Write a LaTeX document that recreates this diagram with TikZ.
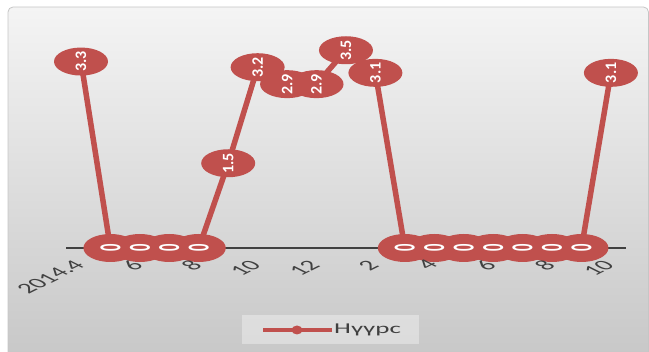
\documentclass[tikz,border=0pt]{standalone}
\usepackage{fontspec}
\setmainfont{Carlito}
\usepackage{graphicx}
\usetikzlibrary{shapes.geometric}
\definecolor{ser}{HTML}{C0504D}
\definecolor{txt}{HTML}{404040}
\definecolor{bgtop}{HTML}{F4F4F4}
\definecolor{bgbot}{HTML}{C7C7C7}
\newcommand\zlab{\scalebox{2.1}[1]{\rotatebox{90}{0}}}
\newcommand\xlab[1]{\scalebox{2}[1]{\rotatebox{45}{#1}}}
\begin{document}
\begin{tikzpicture}[x=1pt,y=-1pt,
  marker/.style={ellipse, fill=ser, minimum width=54pt, minimum height=28pt, inner sep=0pt},
  vallab/.style={inner sep=0pt, text=white, font=\fontsize{16}{16}\selectfont\bfseries},
  zerolab/.style={inner sep=0pt, text=white, font=\fontsize{14.5}{14.5}\selectfont\bfseries},
  series/.style={draw=ser, line width=5.5pt, line join=round},
  ticklab/.style={anchor=north east, inner sep=0pt, text=txt, font=\fontsize{14.5}{14.5}\selectfont},
  axisline/.style={draw=txt, line width=2.5pt},
]
\useasboundingbox (0,0) rectangle (649,352);
% background
\shade[top color=bgtop, bottom color=bgbot, draw=gray!45, line width=0.8pt, rounded corners=5pt]
  (8,7) rectangle (648.5,362);
% data coordinates
\foreach \i/\v in {0/3.3,1/0,2/0,3/0,4/0,5/1.5,6/3.2,7/2.9,8/2.9,9/3.5,10/3.1,11/0,12/0,13/0,14/0,15/0,16/0,17/0,18/3.1}
  \coordinate (p\i) at ({81+29.44*\i},{248-56.5*\v});
% axis
\coordinate (axL) at (66,248);
\coordinate (axR) at (626,248);
\draw[axisline] (axL) -- (axR);
% series line
\draw[series] (p0) \foreach \i in {1,...,18} {-- (p\i)};
% markers
\foreach \i in {0,...,18}
  \node[marker] (m\i) at (p\i) {};
% value labels
\foreach \i/\t in {0/3.3,5/1.5,6/3.2,7/2.9,8/2.9,9/3.5,10/3.1,18/3.1}
  \node[vallab] (t\i) at (m\i.center) {\rotatebox{90}{\t}};
\foreach \i in {1,2,3,4,11,12,13,14,15,16,17}
  \node[zerolab] (t\i) at (m\i.center) {\zlab};
% axis labels
\foreach \i/\t in {0/2014.4,2/6,4/8,6/10,8/12,10/2,12/4,14/6,16/8,18/10}
  \node[ticklab] (l\i) at ({86+29.44*\i},259) {\xlab{\t}};
% legend
\node[fill=white, fill opacity=0.35, minimum width=177pt, minimum height=29pt, inner sep=0pt, anchor=north west] (leg) at (242,315) {};
\coordinate (la) at (263,330);
\coordinate (lb) at (332,330);
\draw[draw=ser, line width=4.5pt] (la) -- (lb);
\node[ellipse, fill=ser, minimum width=11pt, minimum height=9pt, inner sep=0pt] (ld) at (297,330) {};
\node[anchor=west, inner sep=0pt, text=txt, font=\fontsize{15}{15}\selectfont] (lt) at (334,330) {\scalebox{1.8}[1]{Нүүрс}};
\end{tikzpicture}
\end{document}
